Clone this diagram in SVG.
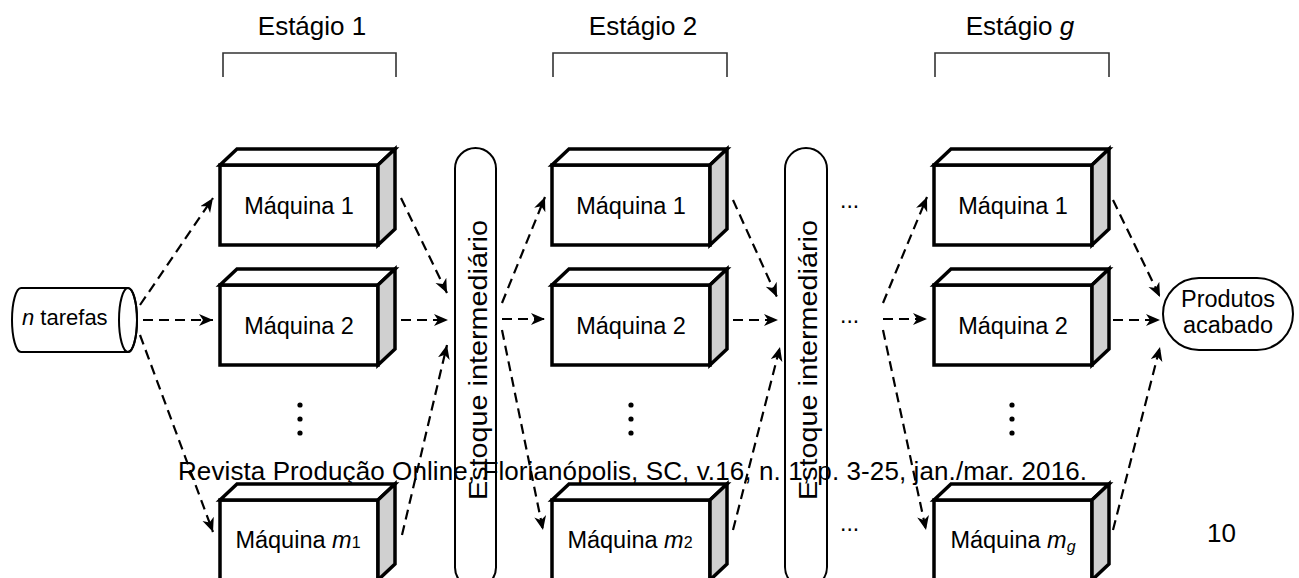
<svg xmlns="http://www.w3.org/2000/svg" width="1299" height="578" viewBox="0 0 1299 578">
<style>
text{font-family:"Liberation Sans",Arial,sans-serif;fill:#000}
.mf{fill:#fff;stroke:#000;stroke-width:3.5;stroke-linejoin:miter}
.ms{fill:#d0d0d0;stroke:#000;stroke-width:3.5;stroke-linejoin:miter}
.lbl{font-size:23.5px;text-anchor:middle}
.stg{font-size:26px;text-anchor:middle}
.br{fill:none;stroke:#333;stroke-width:1.6}
.pill{fill:#fff;stroke:#000;stroke-width:2}
.est{font-size:26px;text-anchor:middle}
.c{fill:none;stroke:#000;stroke-width:2.2;stroke-dasharray:10,6;marker-end:url(#ah)}
.dot{fill:#000}
</style>
<defs>
<marker id="ah" markerUnits="userSpaceOnUse" markerWidth="16" markerHeight="14" refX="14" refY="6" orient="auto">
<path d="M0,0 L14,6 L0,12 L4,6 Z" fill="#000"/>
</marker>
<g id="box">
<rect class="mf" x="0" y="0" width="158" height="80"/>
<polygon class="mf" points="0,0 17,-16 175,-16 158,0"/>
<polygon class="ms" points="158,0 175,-16 175,64 158,80"/>
</g>
</defs>
<rect width="1299" height="578" fill="#fff"/>

<g id="stage-labels">
<text class="stg" x="312" y="35">Estágio 1</text>
<path class="br" d="M223,77 V53 H396 V77"/>
<text class="stg" x="643" y="35">Estágio 2</text>
<path class="br" d="M553,77 V53 H727 V77"/>
<text class="stg" x="1020" y="35">Estágio <tspan font-style="italic">g</tspan></text>
<path class="br" d="M935,77 V53 H1109 V77"/>
</g>

<g id="input">
<path class="pill" d="M21,288 L128,288 A9,32 0 0 1 128,352 L21,352 A9,32 0 0 1 21,288 Z"/>
<ellipse cx="128" cy="320" rx="9" ry="32" fill="none" stroke="#000" stroke-width="2"/>
<text x="22" y="325" font-size="22"><tspan font-style="italic">n</tspan> tarefas</text>
</g>

<g id="s1m1"><use href="#box" x="220" y="165"/><text class="lbl" x="299" y="214">Máquina 1</text></g>
<g id="s1m2"><use href="#box" x="220" y="285"/><text class="lbl" x="299" y="334">Máquina 2</text></g>
<g id="s1mm"><use href="#box" x="220" y="500"/><text class="lbl" x="298" y="548">Máquina <tspan font-style="italic">m</tspan><tspan font-size="16">1</tspan></text></g>

<g id="s2m1"><use href="#box" x="552" y="165"/><text class="lbl" x="631" y="214">Máquina 1</text></g>
<g id="s2m2"><use href="#box" x="552" y="285"/><text class="lbl" x="631" y="334">Máquina 2</text></g>
<g id="s2mm"><use href="#box" x="552" y="500"/><text class="lbl" x="630" y="548">Máquina <tspan font-style="italic">m</tspan><tspan font-size="16">2</tspan></text></g>

<g id="sgm1"><use href="#box" x="934" y="165"/><text class="lbl" x="1013" y="214">Máquina 1</text></g>
<g id="sgm2"><use href="#box" x="934" y="285"/><text class="lbl" x="1013" y="334">Máquina 2</text></g>
<g id="sgmm"><use href="#box" x="934" y="500"/><text class="lbl" x="1013" y="548">Máquina <tspan font-style="italic">m</tspan><tspan font-style="italic" font-size="16" dy="4">g</tspan></text></g>

<g id="vdots">
<circle class="dot" cx="300" cy="405" r="2.6"/><circle class="dot" cx="300" cy="419" r="2.6"/><circle class="dot" cx="300" cy="433" r="2.6"/>
<circle class="dot" cx="631" cy="405" r="2.6"/><circle class="dot" cx="631" cy="419" r="2.6"/><circle class="dot" cx="631" cy="433" r="2.6"/>
<circle class="dot" cx="1012" cy="405" r="2.6"/><circle class="dot" cx="1012" cy="419" r="2.6"/><circle class="dot" cx="1012" cy="433" r="2.6"/>
</g>

<g id="buffer1">
<rect class="pill" x="455" y="148" width="41" height="440" rx="20.5"/>
<text class="est" transform="translate(487,360) rotate(-90)" textLength="280" lengthAdjust="spacingAndGlyphs">Estoque intermediário</text>
</g>
<g id="buffer2">
<rect class="pill" x="785" y="148" width="42" height="440" rx="21"/>
<text class="est" transform="translate(817,360) rotate(-90)" textLength="280" lengthAdjust="spacingAndGlyphs">Estoque intermediário</text>
</g>

<g id="hdots" font-size="23">
<text x="840" y="208">...</text>
<text x="840" y="323">...</text>
<text x="840" y="531">...</text>
</g>

<g id="output">
<rect class="pill" x="1163" y="278" width="130" height="72" rx="36"/>
<text class="lbl" x="1228" y="307">Produtos</text>
<text class="lbl" x="1228" y="333">acabado</text>
</g>

<g id="connectors">
<line class="c" x1="140" y1="305" x2="213" y2="198"/>
<line class="c" x1="143" y1="320" x2="213" y2="320"/>
<line class="c" x1="140" y1="335" x2="213" y2="532"/>
<line class="c" x1="401" y1="198" x2="447" y2="293"/>
<line class="c" x1="401" y1="320" x2="448" y2="320"/>
<line class="c" x1="402" y1="535" x2="447" y2="345"/>
<line class="c" x1="502" y1="303" x2="545" y2="197"/>
<line class="c" x1="502" y1="319" x2="545" y2="319"/>
<line class="c" x1="502" y1="330" x2="543" y2="530"/>
<line class="c" x1="733" y1="200" x2="777" y2="297"/>
<line class="c" x1="733" y1="320" x2="778" y2="320"/>
<line class="c" x1="733" y1="530" x2="780" y2="347"/>
<line class="c" x1="883" y1="303" x2="927" y2="197"/>
<line class="c" x1="883" y1="319" x2="927" y2="319"/>
<line class="c" x1="883" y1="330" x2="926" y2="530"/>
<line class="c" x1="1113" y1="200" x2="1160" y2="297"/>
<line class="c" x1="1113" y1="320" x2="1160" y2="320"/>
<line class="c" x1="1113" y1="530" x2="1160" y2="347"/>
</g>

<g id="footer">
<text x="178" y="480" font-size="26" textLength="909" lengthAdjust="spacing">Revista Produção Online, Florianópolis, SC, v.16, n. 1, p. 3-25, jan./mar. 2016.</text>
<text x="1207" y="542" font-size="26">10</text>
</g>
</svg>
